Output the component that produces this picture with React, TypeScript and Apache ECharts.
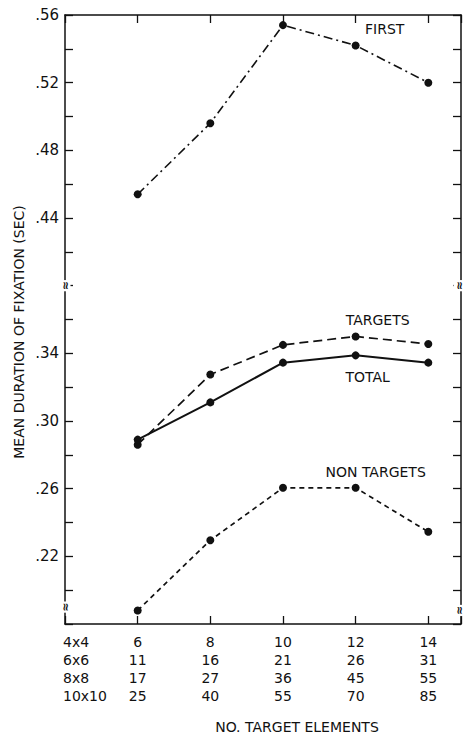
import React, { useEffect, useRef } from "react";
import * as echarts from "echarts";

// ---- data ----
const xValues = [6, 8, 10, 12, 14];
const firstFix = [0.454, 0.496, 0.554, 0.542, 0.52];
const targets = [0.286, 0.3275, 0.345, 0.35, 0.3455];
const total = [0.289, 0.311, 0.3345, 0.3388, 0.3345];
const nonTargets = [0.188, 0.2295, 0.2605, 0.2605, 0.2345];

const gridSizes = ["4x4", "6x6", "8x8", "10x10"];
const row4x4 = [6, 8, 10, 12, 14];
const row6x6 = [11, 16, 21, 26, 31];
const row8x8 = [17, 27, 36, 45, 55];
const row10x10 = [25, 40, 55, 70, 85];
const elementRows = [row4x4, row6x6, row8x8, row10x10];

const yTickLabels = [".22", ".26", ".30", ".34", ".44", ".48", ".52", ".56"];

// axis break between .38 and .40
const BREAK_LO = 0.38;
const BREAK_HI = 0.4;
const GAP = BREAK_HI - BREAK_LO;
const mapY = (v: number) => (v >= BREAK_HI ? v - GAP : v);
const unmapY = (m: number) => (m > BREAK_LO + 0.005 ? m + GAP : m);

const X_MIN = 4;
const X_MAX = 14.9;
const FONT = "DejaVu Sans";

export default function App() {
  const ref = useRef<HTMLDivElement>(null);
  useEffect(() => {
    if (!ref.current) return;
    const chart = echarts.init(ref.current, null, { renderer: "svg" });
    const mk = (vals: number[]) => xValues.map((x, i) => [x, mapY(vals[i])]);
    const withLabel = (vals: number[], idx: number, text: string, position: string, offset: number[]) =>
      mk(vals).map((d, i) =>
        i === idx
          ? {
              value: d,
              label: {
                show: true,
                formatter: text,
                position,
                offset,
                color: "#111",
                fontFamily: FONT,
                fontSize: 14,
              },
            }
          : { value: d }
      );
    const axisLine = { show: true, lineStyle: { color: "#111", width: 1.5 } };
    const axisTick = { show: true, inside: true, length: 8, lineStyle: { color: "#111", width: 1.3 } };
    const symbolStyle = { color: "#111" };
    const option: any = {
      animation: false,
      backgroundColor: "#fff",
      grid: { left: 65, right: 3, top: 15, bottom: 110, containLabel: false },
      xAxis: [
        {
          type: "value",
          position: "bottom",
          min: X_MIN,
          max: X_MAX,
          interval: 2,
          axisLine,
          axisTick,
          splitLine: { show: false },
          axisLabel: {
            show: true,
            margin: 9,
            color: "#111",
            fontFamily: FONT,
            fontSize: 14,
            lineHeight: 18,
            verticalAlign: "top",
            formatter: (v: number) => {
              const i = xValues.indexOf(Math.round(v));
              if (i < 0 || Math.abs(v - Math.round(v)) > 1e-6) return "";
              return elementRows.map((r) => String(r[i])).join("\n");
            },
          },
        },
        {
          type: "value",
          position: "top",
          min: X_MIN,
          max: X_MAX,
          interval: 2,
          axisLine,
          axisTick,
          splitLine: { show: false },
          axisLabel: { show: false },
        },
      ],
      yAxis: [
        {
          type: "value",
          position: "left",
          min: 0.18,
          max: 0.54,
          interval: 0.02,
          axisLine,
          axisTick,
          splitLine: { show: false },
          axisLabel: {
            margin: 6,
            color: "#111",
            fontFamily: FONT,
            fontSize: 15,
            formatter: (m: number) => {
              const s = unmapY(m).toFixed(2).replace(/^0/, "");
              return yTickLabels.includes(s) ? s : "";
            },
          },
        },
        {
          type: "value",
          position: "right",
          min: 0.18,
          max: 0.54,
          interval: 0.02,
          axisLine,
          axisTick,
          splitLine: { show: false },
          axisLabel: { show: false },
        },
      ],
      series: [
        {
          name: "FIRST",
          type: "line",
          data: withLabel(firstFix, 3, "FIRST", "top", [29, 0]),
          symbol: "circle",
          symbolSize: 8,
          itemStyle: symbolStyle,
          lineStyle: { color: "#111", width: 1.6, type: [9, 4, 2, 4] },
        },
        {
          name: "TARGETS",
          type: "line",
          data: withLabel(targets, 3, "TARGETS", "top", [22, 0]),
          symbol: "circle",
          symbolSize: 8,
          itemStyle: symbolStyle,
          lineStyle: { color: "#111", width: 1.7, type: [9, 5] },
        },
        {
          name: "TOTAL",
          type: "line",
          data: withLabel(total, 3, "TOTAL", "bottom", [12, 6]),
          symbol: "circle",
          symbolSize: 8,
          itemStyle: symbolStyle,
          lineStyle: { color: "#111", width: 2 },
        },
        {
          name: "NON TARGETS",
          type: "line",
          data: withLabel(nonTargets, 3, "NON TARGETS", "top", [20, 0]),
          symbol: "circle",
          symbolSize: 8,
          itemStyle: symbolStyle,
          lineStyle: { color: "#111", width: 1.7, type: [5, 4] },
        },
      ],
    };
    chart.setOption(option);

    // annotations positioned relative to the grid
    const origin = chart.convertToPixel({ gridIndex: 0 }, [X_MIN, 0.18]) as number[];
    const rightTop = chart.convertToPixel({ gridIndex: 0 }, [X_MAX, BREAK_LO]) as number[];
    const leftBreak = chart.convertToPixel({ gridIndex: 0 }, [X_MIN, BREAK_LO]) as number[];
    const lowBreakL = chart.convertToPixel({ gridIndex: 0 }, [X_MIN, 0.19]) as number[];
    const lowBreakR = chart.convertToPixel({ gridIndex: 0 }, [X_MAX, 0.188]) as number[];
    const breakMark = (p: number[], dx: number) => ({
      type: "text",
      x: p[0] + dx,
      y: p[1],
      rotation: Math.PI / 2,
      style: {
        text: "≈",
        font: `bold 11px ${FONT}`,
        fill: "#111",
        align: "center",
        verticalAlign: "middle",
        backgroundColor: "#fff",
        padding: [0, 1],
      },
      z: 100,
    });
    const graphic: any[] = [
      breakMark(leftBreak, 0),
      breakMark(rightTop, -2),
      breakMark(lowBreakL, 0),
      breakMark(lowBreakR, -2),
      ...gridSizes.map((g, i) => ({
        type: "text",
        x: origin[0] - 2,
        y: origin[1] + 18 + i * 18,
        style: {
          text: g,
          font: `14px ${FONT}`,
          fill: "#111",
          align: "left",
          verticalAlign: "middle",
        },
      })),
      {
        type: "text",
        x: 297,
        y: 727,
        style: {
          text: "NO. TARGET ELEMENTS",
          font: `14px ${FONT}`,
          fill: "#111",
          align: "center",
          verticalAlign: "middle",
        },
      },
      {
        type: "text",
        x: 19,
        y: 332,
        rotation: Math.PI / 2,
        style: {
          text: "MEAN DURATION OF FIXATION (SEC)",
          font: `14px ${FONT}`,
          fill: "#111",
          align: "center",
          verticalAlign: "middle",
        },
      },
    ];
    chart.setOption({ graphic });
    return () => chart.dispose();
  }, []);
  return (
    <div
      ref={ref}
      style={{ position: "absolute", left: 0, top: 0, width: 464, height: 734 }}
    />
  );
}
